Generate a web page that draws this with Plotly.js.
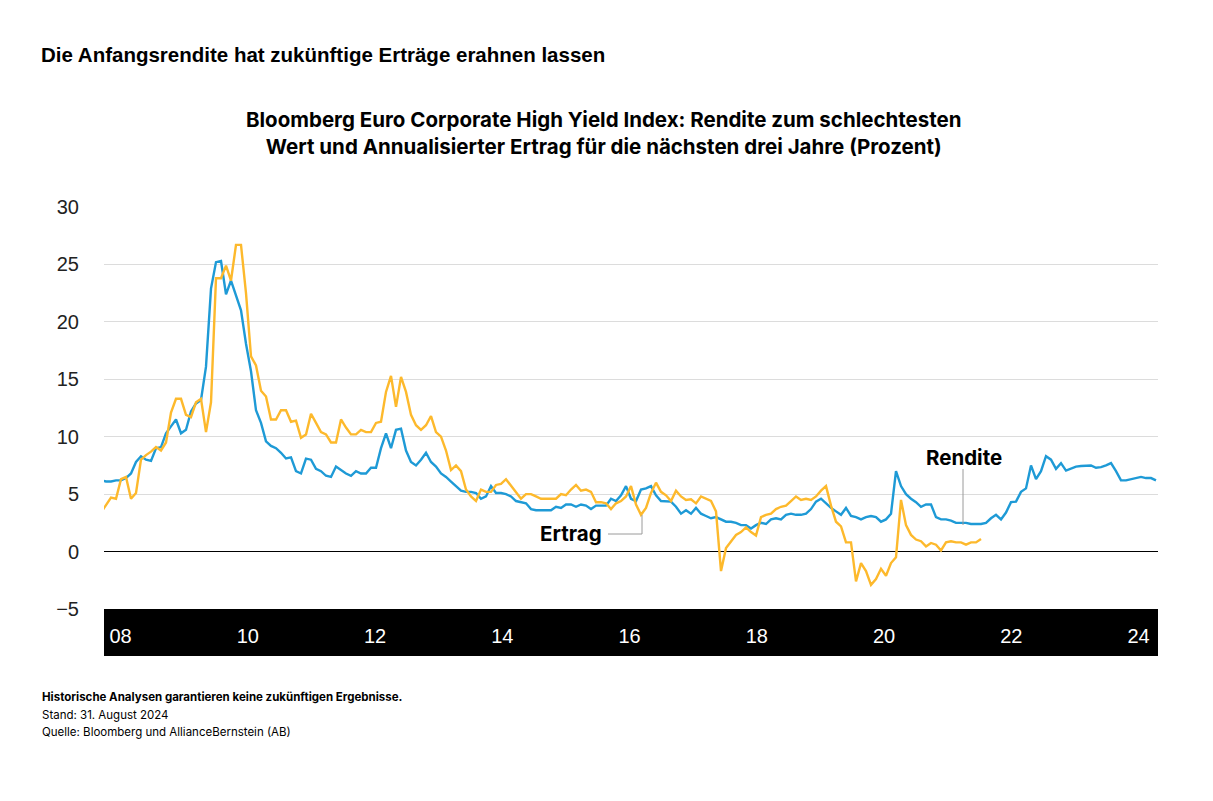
<!DOCTYPE html>
<html>
<head>
<meta charset="utf-8">
<script src="https://cdn.plot.ly/plotly-3.0.1.min.js"></script>
<style>
html,body{margin:0;padding:0;background:#fff;}
#chart{width:1213px;height:801px;}
</style>
</head>
<body>
<div id="chart"></div>
<script>
// Rendite (yield to worst), one value per observation
const rendite = [
6.2,6.1,6.1,6.2,6.2,6.4,6.8,7.8,8.3,8.0,
7.9,9.0,9.1,10.3,10.9,11.5,10.3,10.6,12.2,12.9,
13.2,16.1,22.9,25.2,25.3,22.4,23.6,22.2,21.0,18.1,
15.7,12.3,11.2,9.6,9.2,9.0,8.6,8.1,8.2,7.0,
6.8,8.1,8.0,7.2,7.0,6.6,6.5,7.4,7.1,6.8,
6.6,7.0,6.8,6.8,7.3,7.3,9.0,10.3,9.0,10.6,
10.7,8.8,7.8,7.5,8.0,8.6,7.8,7.4,6.8,6.5,
6.1,5.7,5.3,5.2,5.2,5.1,4.6,4.8,5.7,5.1,
5.1,5.0,4.8,4.4,4.3,4.2,3.7,3.6,3.6,3.6,
3.6,3.9,3.8,4.1,4.1,3.9,4.1,4.0,3.7,4.0,
4.0,4.0,4.6,4.4,4.9,5.7,4.6,4.4,5.4,5.5,
5.7,4.9,4.4,4.35,4.35,3.9,3.3,3.6,3.3,3.8,
3.3,3.1,2.9,3.0,2.8,2.6,2.6,2.5,2.3,2.3,
2.0,2.3,2.5,2.4,2.8,2.9,2.8,3.2,3.3,3.2,
3.2,3.3,3.7,4.35,4.6,4.2,3.8,3.5,3.2,3.8,
3.1,3.0,2.8,3.0,3.1,3.0,2.6,2.8,3.3,7.0,
5.7,5.0,4.6,4.3,3.9,4.1,4.1,3.0,2.8,2.8,
2.7,2.5,2.5,2.5,2.4,2.4,2.4,2.5,2.9,3.2,
2.8,3.4,4.3,4.35,5.2,5.5,7.5,6.3,7.0,8.3,
8.0,7.2,7.7,7.05,7.25,7.4,7.45,7.5,7.5,7.3,
7.35,7.5,7.7,7.0,6.2,6.2,6.3,6.4,6.5,6.4,
6.4,6.2
];
// Ertrag (annualised return over the following three years)
const ertrag = [
3.4,4.0,4.7,4.6,6.3,6.5,4.6,5.1,8.0,8.4,
8.7,9.1,8.8,9.5,12.1,13.3,13.3,11.9,11.7,13.0,
13.3,10.4,13.0,23.8,23.8,24.9,23.6,26.7,26.7,22.5,
17.0,16.2,14.0,13.5,11.5,11.5,12.3,12.3,11.3,11.4,
9.9,10.2,12.0,11.2,10.4,10.2,9.5,9.5,11.5,10.8,
10.2,10.2,10.6,10.4,10.4,11.2,11.3,13.9,15.3,12.6,
15.2,13.9,11.9,11.0,10.6,11.0,11.8,10.4,10.0,8.8,
7.1,7.5,7.0,5.4,4.8,4.4,5.4,5.2,5.2,5.8,
5.9,6.3,5.7,5.2,4.6,5.0,5.0,4.8,4.6,4.6,
4.6,4.6,5.0,4.9,5.4,5.8,5.3,5.4,5.2,4.3,
4.3,4.2,3.7,4.2,4.4,4.8,5.7,4.1,3.2,3.8,
5.1,6.0,5.2,4.9,4.4,5.3,4.8,4.5,4.55,4.2,
4.8,4.6,4.4,3.5,-1.7,0.3,0.9,1.45,1.7,2.1,
1.7,1.4,3.0,3.2,3.3,3.7,3.9,4.0,4.4,4.8,
4.5,4.6,4.5,4.8,5.3,5.7,4.0,2.6,2.2,0.8,
0.8,-2.6,-1.0,-1.7,-2.9,-2.4,-1.5,-2.1,-1.0,-0.5,
4.5,2.3,1.45,1.05,0.9,0.45,0.75,0.6,0.1,0.8,
0.9,0.8,0.8,0.6,0.8,0.8,1.1
];
// x-axis tick labels (two-digit years)
const yearLabels = ["08","10","12","14","16","18","20","22","24"];
const yTicks = [-5,0,5,10,15,20,25,30];

const idxR = rendite.map((_, i) => i);
const idxE = ertrag.map((_, i) => i);

// plot area in pixels
const PL = 104, PR = 1158, PT = 207, PB = 609;
const PW = PR - PL, PH = PB - PT;
const px = x => (x - PL) / PW;
const py = y => (PB - y) / PH;

// tick positions (observation index of each label)
const tickStart = 3.9, tickStep = 25.45;
const tickVals = yearLabels.map((_, k) => tickStart + k * tickStep);

const FONT = "Inter, 'Liberation Sans', Arial, sans-serif";
const TICKFONT = "'Liberation Sans', Arial, sans-serif";
const BLUE = "#1E9AD6", YELLOW = "#FDB92C";

const traces = [
  {x: idxR, y: rendite, type: "scatter", mode: "lines", name: "Rendite",
   line: {color: BLUE, width: 2.4}, hoverinfo: "skip"},
  {x: idxE, y: ertrag, type: "scatter", mode: "lines", name: "Ertrag",
   line: {color: YELLOW, width: 2.4}, hoverinfo: "skip"}
];

const layout = {
  width: 1213, height: 801,
  margin: {l: PL, r: 1213 - PR, t: PT, b: 801 - PB, pad: 0},
  paper_bgcolor: "#fff", plot_bgcolor: "#fff",
  showlegend: false,
  font: {family: FONT, color: "#222"},
  xaxis: {
    range: [0.6, 211.4], showgrid: false, zeroline: false, showline: false,
    tickmode: "array", tickvals: tickVals, ticktext: yearLabels,
    ticks: "", ticklabelstandoff: 13,
    tickfont: {family: TICKFONT, size: 20, color: "#fff"}, fixedrange: true
  },
  yaxis: {
    range: [-5, 30], tickmode: "array", tickvals: yTicks,
    showgrid: true, gridcolor: "#dcdcdc", gridwidth: 1,
    zeroline: true, zerolinecolor: "#000", zerolinewidth: 1.5,
    showline: false, ticks: "", ticklabelstandoff: 24,
    tickfont: {family: TICKFONT, size: 20, color: "#222"}, fixedrange: true
  },
  shapes: [
    {type: "rect", xref: "paper", yref: "paper", x0: 0, x1: 1,
     y0: py(656), y1: py(609), fillcolor: "#000", line: {width: 0}, layer: "below"},
    {type: "line", xref: "paper", yref: "paper", x0: px(963), x1: px(963),
     y0: py(469), y1: py(525), line: {color: "#9a9a9a", width: 1}},
    {type: "path", xref: "paper", yref: "paper",
     path: `M ${px(608)} ${py(534)} L ${px(642)} ${py(534)} L ${px(642)} ${py(515)}`,
     line: {color: "#9a9a9a", width: 1}}
  ],
  annotations: [
    {text: "<b>Die Anfangsrendite hat zukünftige Erträge erahnen lassen</b>",
     xref: "paper", yref: "paper", x: px(39), y: py(55), xanchor: "left", yanchor: "middle",
     showarrow: false, font: {family: TICKFONT, size: 20.5, color: "#000"}},
    {text: "<b>Bloomberg Euro Corporate High Yield Index: Rendite zum schlechtesten<br>Wert und Annualisierter Ertrag für die nächsten drei Jahre (Prozent)</b>",
     xref: "paper", yref: "paper", x: px(604), y: py(133), xanchor: "center", yanchor: "middle",
     align: "center", showarrow: false, font: {family: FONT, size: 20.5, color: "#000"}},
    {text: "<b>Rendite</b>", xref: "paper", yref: "paper", x: px(964), y: py(457),
     xanchor: "center", yanchor: "middle", showarrow: false,
     font: {family: FONT, size: 20.5, color: "#000"}},
    {text: "<b>Ertrag</b>", xref: "paper", yref: "paper", x: px(571), y: py(533),
     xanchor: "center", yanchor: "middle", showarrow: false,
     font: {family: FONT, size: 20.5, color: "#000"}},
    {text: "<b>Historische Analysen garantieren keine zukünftigen Ergebnisse.</b>",
     xref: "paper", yref: "paper", x: px(40), y: py(697), xanchor: "left", yanchor: "middle",
     showarrow: false, font: {family: FONT, size: 11.5, color: "#000"}},
    {text: "Stand: 31. August 2024",
     xref: "paper", yref: "paper", x: px(40), y: py(715), xanchor: "left", yanchor: "middle",
     showarrow: false, font: {family: FONT, size: 11.5, color: "#000"}},
    {text: "Quelle: Bloomberg und AllianceBernstein (AB)",
     xref: "paper", yref: "paper", x: px(40), y: py(732), xanchor: "left", yanchor: "middle",
     showarrow: false, font: {family: FONT, size: 11.5, color: "#000"}}
  ]
};

Plotly.newPlot("chart", traces, layout, {staticPlot: true, displayModeBar: false});
</script>
</body>
</html>
